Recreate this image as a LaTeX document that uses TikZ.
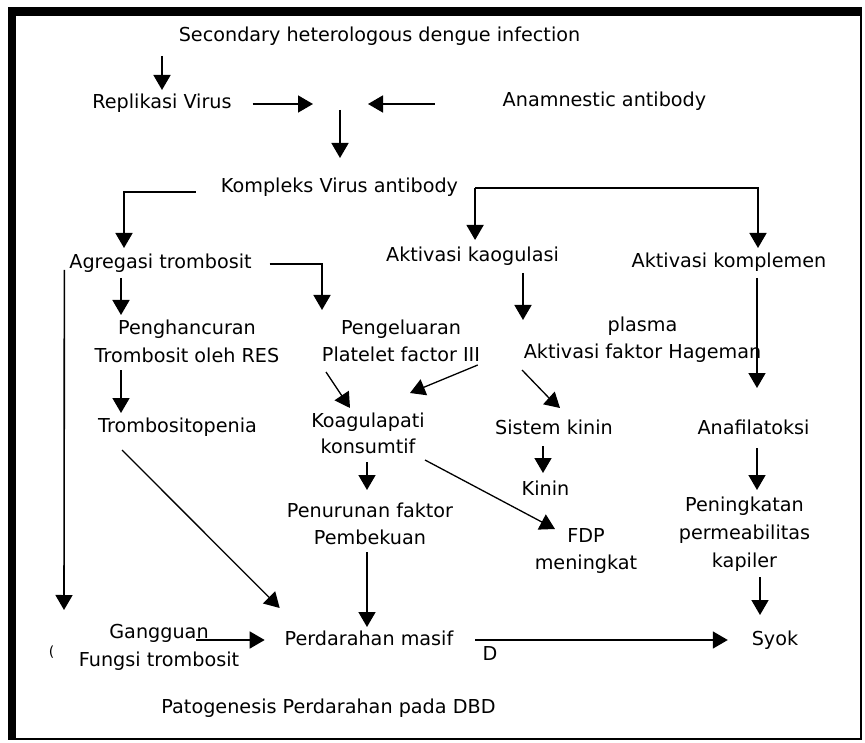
\documentclass[tikz,border=0pt]{standalone}
\usepackage{fontspec}
\setmainfont{DejaVu Sans}
\usetikzlibrary{arrows.meta}
\newcommand\lst{\rule[-4.6pt]{0pt}{19.2pt}}
\begin{document}
\begin{tikzpicture}[x=1pt,y=-1pt,
  every node/.style={inner sep=0pt, outer sep=0pt, font=\fontsize{19.2}{27}\selectfont, text=black},
  lbl/.style={anchor=base, text height=14.6pt, text depth=4.6pt},
  mlbl/.style={anchor=north, align=center},
  ln/.style={line width=1.6pt, draw=black},
  arr/.style={ln, -{Triangle[width=17pt,length=15pt]}},
  darr/.style={arr, line width=1.3pt},
]
\useasboundingbox (0,0) rectangle (865,743);
% frame
\fill[black] (8,7) rectangle (16,740);
\fill[black] (8,7) rectangle (862,16);
\draw[line width=2pt] (861,16) -- (861,739) -- (14,739);

% nodes
\node[lbl] (sec) at (379.5,42) {Secondary heterologous dengue infection};
\node[lbl] (rep) at (162,109) {Replikasi Virus};
\node[lbl] (ana) at (604.5,107) {Anamnestic antibody};
\coordinate (J) at (340,104);
\node[lbl] (kva) at (339.5,193) {Kompleks Virus antibody};
\node[lbl] (agr) at (160.5,269) {Agregasi trombosit};
\node[lbl] (akg) at (472.5,262) {Aktivasi kaogulasi};
\node[lbl] (akm) at (729,268) {Aktivasi komplemen};
\node[mlbl] (peng) at (187,320.4) {\lst Penghancuran\\[1pt]\lst Trombosit oleh RES};
\node[mlbl] (pel) at (401,319.4) {\lst Pengeluaran\\\lst Platelet factor III};
\node[mlbl] (hag) at (642.5,317.4) {\lst plasma\\\lst Aktivasi faktor Hageman};
\node[lbl] (trp) at (177.5,432) {Trombositopenia};
\node[mlbl] (koa) at (368,412.4) {\lst Koagulapati\\[-1pt]\lst konsumtif};
\node[lbl] (skn) at (554,434) {Sistem kinin};
\node[lbl] (anf) at (753.5,434) {Anafilatoksi};
\node[lbl] (kin) at (545.5,495) {Kinin};
\node[mlbl] (pen) at (370,502.4) {\lst Penurunan faktor\\\lst Pembekuan};
\node[mlbl] (fdp) at (586,527.4) {\lst FDP\\\lst meningkat};
\node[mlbl] (pkt) at (744.5,496.4) {\lst Peningkatan\\[1pt]\lst permeabilitas\\[1pt]\lst kapiler};
\node[lbl] (syok) at (775,645) {Syok};
\node[lbl] (per) at (369,645) {Perdarahan masif};
\node[mlbl] (gan) at (159,623.4) {\lst Gangguan\\[1pt]\lst Fungsi trombosit};
\node[anchor=base, font=\fontsize{14}{16}\selectfont] (paren) at (51.5,656) {(};
\node[lbl] (dd) at (490,660) {D};
\node[lbl] (title) at (328.5,713) {Patogenesis Perdarahan pada DBD};
\coordinate (vL) at (64,610);

% connectors
\draw[arr, shorten <=9.4pt, shorten >=4.4pt] (sec.south -| rep.south) -- (rep.north);
\draw[arr, shorten <=21pt, shorten >=27pt] (rep.east |- J) -- (J);
\draw[arr, shorten <=67.8pt, shorten >=28pt] (ana.west |- J) -- (J);
\draw[arr, shorten <=6pt, shorten >=20.4pt] (J) -- (J |- kva.north);
\draw[arr, shorten >=6.4pt] ([xshift=-25pt,yshift=-4pt]kva.west) -| ([xshift=-36.5pt]agr.north);
\coordinate (kR) at ([xshift=17pt]kva.east);
\draw[arr, shorten >=5.4pt] (kR) -| ([xshift=29pt]akm.north);
\draw[arr, shorten >=7.4pt] (kR) -- (kR |- akg.north);
\draw[arr] ([xshift=-5pt,yshift=-6pt]agr.west) -- (vL);
\draw[arr, shorten <=4.4pt, shorten >=5.4pt] ([xshift=-39.5pt]agr.south) -- ([xshift=-39.5pt]agr.south |- peng.north);
\draw[arr, shorten >=9.4pt] ([xshift=18pt]agr.east) -| ([xshift=-79pt]pel.north);
\draw[arr, shorten <=2.4pt, shorten >=4.4pt] ([xshift=-66pt]peng.south) -- ([xshift=-66pt]peng.south |- trp.north);
\draw[darr] ([xshift=-55.5pt,yshift=-13.4pt]trp.south) -- ([xshift=-5pt,yshift=22.4pt]per.north west);
\draw[darr] ([xshift=-75pt,yshift=-6.4pt]pel.south) -- ([xshift=-18pt,yshift=4.4pt]koa.north);
\draw[darr] ([xshift=-46pt,yshift=-1.4pt]hag.south west) -- ([xshift=42pt,yshift=19.4pt]koa.north);
\draw[arr] ([xshift=50.5pt,yshift=-6.4pt]akg.south) -- ([xshift=-119.5pt,yshift=-2.6pt]hag.north);
\draw[darr] ([xshift=-120.5pt,yshift=-6.4pt]hag.south) -- ([xshift=6pt,yshift=11.4pt]skn.north);
\draw[arr] ([xshift=28pt,yshift=-5.4pt]akm.south) -- ([xshift=3.5pt,yshift=31.4pt]anf.north);
\draw[arr] ([xshift=-11pt,yshift=-7.4pt]skn.south) -- ([xshift=-2.5pt,yshift=7.4pt]kin.north);
\draw[arr] ([xshift=3.5pt,yshift=-9.4pt]anf.south) -- ([xshift=12.5pt,yshift=6.4pt]pkt.north);
\draw[arr] ([xshift=-1pt,yshift=-4.4pt]koa.south) -- ([xshift=-3pt,yshift=12.4pt]pen.north);
\draw[darr] ([xshift=57pt,yshift=-2.4pt]koa.south) -- ([xshift=-31pt,yshift=-1.6pt]fdp.north);
\draw[arr] ([xshift=-3pt,yshift=-3.4pt]pen.south) -- ([xshift=-2pt,yshift=3.4pt]per.north);
\draw[arr] ([xshift=15.5pt,yshift=-5.4pt]pkt.south) -- ([xshift=-15pt,yshift=15.4pt]syok.north);
\draw[arr, shorten >=20pt] ([xshift=-43pt,yshift=7pt]gan.east) -- (per.west);
\draw[arr, shorten <=22pt, shorten >=24pt] (per.east) -- (syok.west);
\end{tikzpicture}
\end{document}
